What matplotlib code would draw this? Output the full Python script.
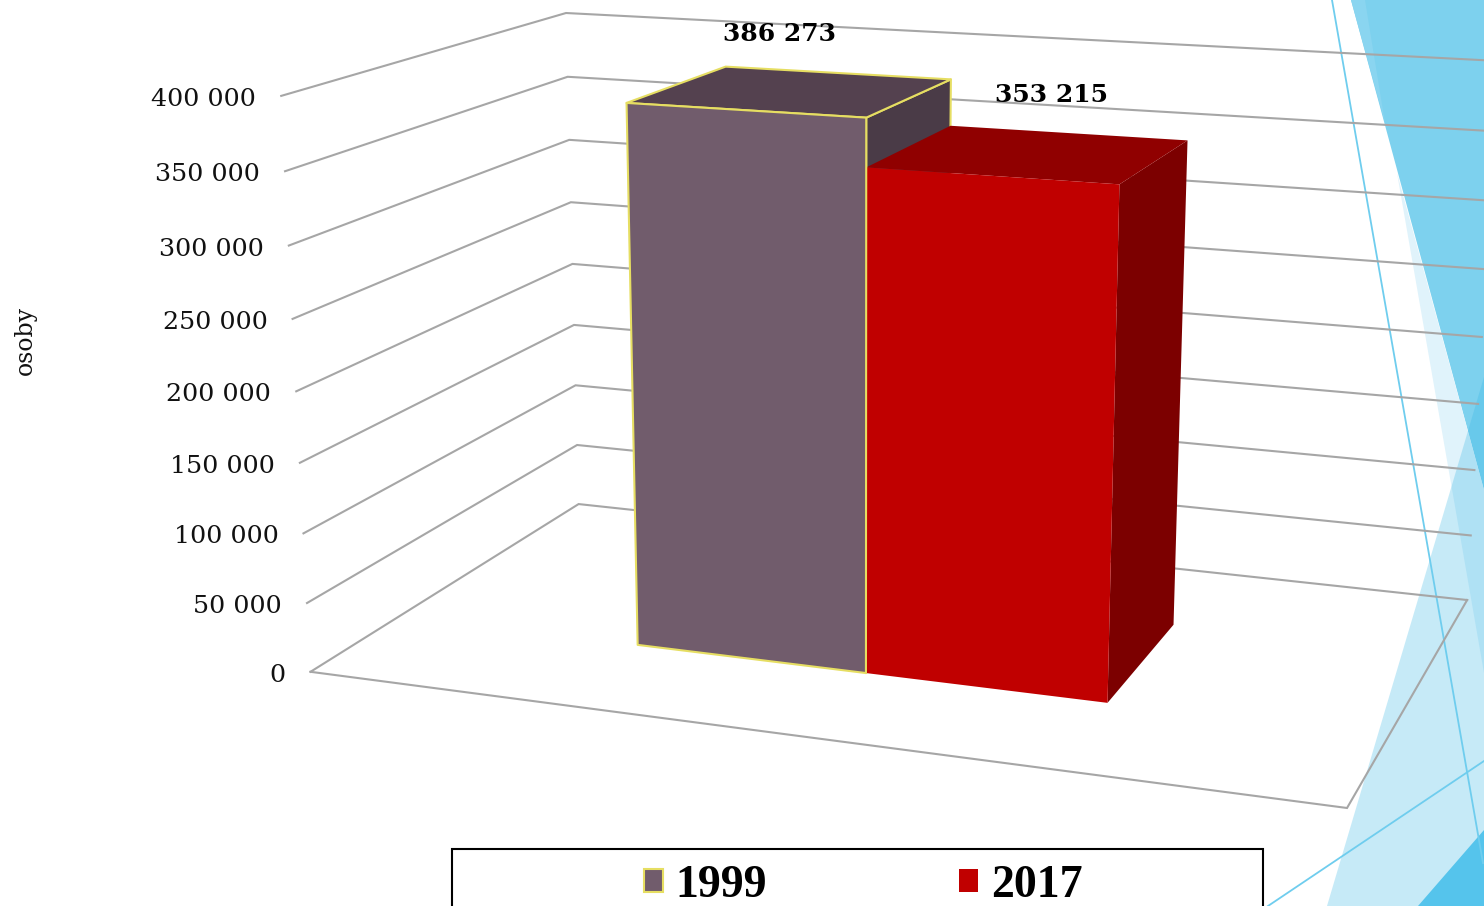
#!/usr/bin/env python3
# -*- coding: utf-8 -*-
"""
Two 3D style columns (1999, 2017) drawn with a small camera projection on a plain axes.
"""

import numpy as np
import matplotlib
matplotlib.use('Agg')
import matplotlib.pyplot as plt
from matplotlib.patches import Polygon, Rectangle, Patch

# The data
years     = ['1999', '2017']
values    = [386273, 353215]
ticks     = [0, 50000, 100000, 150000, 200000, 250000, 300000, 350000, 400000]
ylabel    = 'osoby'

# Camera calibration: world (x, y, value) -> picture pixel
zmax      = 400000
calib     = [((0,0,0),(310,672)), ((1,0,0),(1347,808)), ((1,1,0),(1467,600)), ((0,1,0),(579,504)),
             ((0,1,400000),(566,13)), ((0,0,400000),(281,96)), ((1,1,200000),(1482,337)),
             ((0,1,200000),(572,264)), ((0,0,200000),(297,391))]

# Bar styles
bar_edges  = [0.261, 0.499, 0.738]
bar_front  = 0.299
bar_back   = 0.70
bar_colors = [dict(front='#715C6C', top='#54414F', side='#4A3B47', edge='#E6DE62'),
              dict(front='#C00000', top='#900000', side='#7C0000', edge='none')]
front_zo   = [5, 4.2]       # The yellow seam of 1999 stays on top of the 2017 front
label_offs = [(-57, -39), (-16, -38)]


def fit_camera(points):
    rows = []
    for (x, y, z), (u, v) in points:
        z = z / zmax
        rows.append([x, y, z, 1, 0, 0, 0, 0, -u*x, -u*y, -u*z, -u])
        rows.append([0, 0, 0, 0, x, y, z, 1, -v*x, -v*y, -v*z, -v])
    return np.linalg.svd(np.array(rows, dtype=float))[2][-1].reshape(3, 4)


P = fit_camera(calib)


def project(x, y, z):
    u, v, w = P @ np.array([x, y, z / zmax, 1])
    return u / w, v / w


def add_face(ax, corners, color, edge, zorder):
    points = [project(*corner) for corner in corners]
    ax.add_patch(Polygon(points, fc=color, ec=edge, lw=1.5, joinstyle='round', zorder=zorder))


fig = plt.figure(figsize=(14.84, 9.06), dpi=100)
ax  = fig.add_axes([0, 0, 1, 1])
ax.set_xlim(0, 1484)
ax.set_ylim(906, 0)
ax.axis('off')

# Background decoration of the slide
ax.add_patch(Polygon([(1351,0), (1484,0), (1484,490)], fc='#7DD1EE', ec='none', zorder=1))
ax.add_patch(Polygon([(1351,0), (1365,0), (1385,123)], fc='#8AD5F0', ec='none', zorder=1))
ax.add_patch(Polygon([(1397,173), (1484,490), (1484,673)], fc='#E0F3FB', ec='none', zorder=1))
ax.add_patch(Polygon([(1327,906), (1484,377), (1484,906)], fc='#33B5E5', alpha=0.28, ec='none', zorder=1.1))
ax.add_patch(Polygon([(1418,906), (1484,830), (1484,906)], fc='#55C4EC', ec='none', zorder=1.2))
ax.plot([1332, 1483], [0, 863], color='#6FCDEE', lw=1.3, zorder=1.3)
ax.plot([1268, 1484], [906, 761], color='#6FCDEE', lw=1.3, zorder=1.3)

# Gridlines on the two walls and the floor
grid = dict(color='#A6A6A6', lw=1.5, zorder=2, solid_joinstyle='miter')
for tick in ticks:
    a, b, c = project(0, 0, tick), project(0, 1, tick), project(1, 1, tick)
    ax.plot([a[0], b[0], c[0]], [a[1], b[1], c[1]], **grid)
    label = f'{tick:,}'.replace(',', ' ')
    ax.text(a[0]-25, a[1]+3.5, label, ha='right', va='center', family='DejaVu Serif', fontsize=18.3, color='#111111')
floor = [project(0,0,0), project(1,0,0), project(1,1,0)]
ax.plot(*zip(*floor), **grid)
ax.text(25, 340, ylabel, rotation=90, ha='center', va='center', family='DejaVu Serif', fontsize=17, color='#111111')

# The columns, back faces first so that the 2017 top covers the side of 1999
for n, value in enumerate(values):
    x0, x1 = bar_edges[n], bar_edges[n+1]
    y0, y1 = bar_front, bar_back
    style  = bar_colors[n]
    zo     = 3 + n
    add_face(ax, [(x1,y0,0), (x1,y1,0), (x1,y1,value), (x1,y0,value)], style['side'], style['edge'], zo)
    add_face(ax, [(x0,y0,value), (x1,y0,value), (x1,y1,value), (x0,y1,value)], style['top'], style['edge'], zo + 0.1)
    add_face(ax, [(x0,y0,0), (x1,y0,0), (x1,y0,value), (x0,y0,value)], style['front'], style['edge'], front_zo[n])
    u, v = project((x0 + x1) / 2, y1, value)
    ax.text(u + label_offs[n][0], v + label_offs[n][1], f'{value:,}'.replace(',', ' '), ha='center', va='center',
            family='DejaVu Serif', fontweight='bold', fontsize=18, color='black', zorder=6)

# Legend, its frame runs off the bottom of the picture
ax.add_patch(Rectangle((452, 849), 811, 80, fc='white', ec='black', lw=1.5, zorder=7))
handles = [Patch(fc=bar_colors[n]['front'], ec=bar_colors[n]['edge'], lw=1.5, label=years[n]) for n in range(len(years))]
leg = ax.legend(handles=handles, ncol=2, frameon=False, loc='upper left', bbox_to_anchor=(644, 865), bbox_transform=ax.transData,
                borderpad=0, borderaxespad=0, handlelength=0.415, handleheight=0.415, handletextpad=0.28, columnspacing=4.19,
                prop=dict(family='Liberation Serif', weight='bold', size=33))
leg.set_zorder(8)

fig.savefig('out.png', dpi=100)
